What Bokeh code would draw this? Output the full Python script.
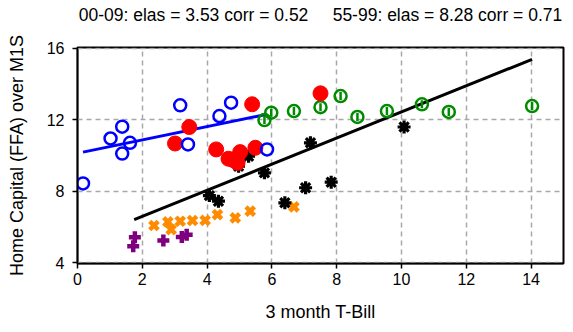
import math
from bokeh.plotting import figure
from bokeh.models import Range1d, FixedTicker, Title
from bokeh.embed import file_html
from bokeh.resources import INLINE

# ---- data ----
# 2000-2009 (blue open circles)
blue_x = [0.17, 1.02, 1.38, 1.38, 1.62, 3.17, 3.41, 4.38, 4.74, 5.85]
blue_y = [8.44, 10.95, 11.61, 10.11, 10.71, 12.80, 10.62, 12.20, 12.95, 10.34]
# 1990s (red filled circles)
red_x = [3.01, 3.45, 4.28, 4.66, 4.80, 4.94, 5.02, 5.39, 5.49, 7.50]
red_y = [10.67, 11.59, 10.34, 9.82, 9.75, 9.59, 10.19, 12.86, 10.43, 13.47]
# 1980s (green circle with bar)
green_x = [5.77, 5.98, 6.68, 7.50, 8.12, 8.64, 9.55, 10.63, 11.46, 14.03]
green_y = [11.98, 12.39, 12.48, 12.70, 13.32, 12.15, 12.48, 12.86, 12.43, 12.76]
# 1970s (black asterisks)
black_x = [4.07, 4.35, 4.97, 5.28, 5.77, 6.40, 7.04, 7.19, 7.83, 10.08]
black_y = [7.76, 7.45, 9.40, 9.96, 9.03, 7.36, 8.20, 10.71, 8.51, 11.59]
# 1960s (orange x)
orange_x = [2.36, 2.79, 2.89, 3.17, 3.55, 3.94, 4.32, 4.87, 5.33, 6.68]
orange_y = [6.09, 6.29, 5.86, 6.33, 6.37, 6.38, 6.70, 6.52, 6.89, 7.13]
# 1955-59 (purple +)
purple_x = [1.72, 1.77, 2.65, 3.22, 3.37]
purple_y = [4.93, 5.43, 5.26, 5.45, 5.58]
# fitted lines (endpoints)
fit00_x = [0.17, 5.85]
fit00_y = [10.19, 12.30]
fit55_x = [1.75, 14.03]
fit55_y = [6.42, 15.37]

x_ticks = [0, 2, 4, 6, 8, 10, 12, 14]
y_ticks = [4, 8, 12, 16]
title_left = "00-09: elas = 3.53 corr = 0.52"
title_right = "55-99: elas = 8.28 corr = 0.71"

FONT = "Liberation Sans"

p = figure(width=565, height=324, output_backend="svg", toolbar_location=None,
           title=None,
           x_range=Range1d(0, 15), y_range=Range1d(3.97, 16.03),
           min_border_left=77, min_border_right=2, min_border_top=47,
           min_border_bottom=61)
p.background_fill_color = "white"
p.border_fill_color = "white"
p.outline_line_color = "black"
p.outline_line_width = 2

# spacer between frame and header text, then the header itself
p.add_layout(Title(text="\u00a0", text_font_size="1px", standoff=20), "above")
p.add_layout(Title(text=title_left + "\u00a0" * 5 + title_right, align="center",
                   text_font=FONT, text_font_size="17.5px", text_font_style="normal",
                   text_color="black", standoff=0, vertical_align="bottom"), "above")

for ax in (p.xaxis[0], p.yaxis[0]):
    ax.axis_line_color = "black"
    ax.axis_line_width = 1.5
    ax.major_tick_line_color = "black"
    ax.major_tick_line_width = 1.5
    ax.major_tick_out = 5
    ax.major_tick_in = 0
    ax.minor_tick_line_color = None
    ax.major_label_text_font = FONT
    ax.major_label_text_font_size = "16px"
    ax.major_label_text_color = "black"
    ax.axis_label_text_font = FONT
    ax.axis_label_text_font_size = "18px"
    ax.axis_label_text_font_style = "normal"
    ax.axis_label_text_color = "black"

p.xaxis[0].ticker = FixedTicker(ticks=x_ticks)
p.yaxis[0].ticker = FixedTicker(ticks=y_ticks)
p.xaxis[0].axis_label = "3 month T-Bill"
p.yaxis[0].axis_label = "Home Capital (FFA) over M1S"
p.xaxis[0].major_label_standoff = 4
p.yaxis[0].major_label_standoff = 8
p.xaxis[0].axis_label_standoff = 14
p.yaxis[0].axis_label_standoff = 17

for g in (p.xgrid[0], p.ygrid[0]):
    g.grid_line_color = "#a8a8a8"
    g.grid_line_width = 1.5
    g.grid_line_dash = "5 4"
p.xgrid[0].ticker = FixedTicker(ticks=x_ticks)
p.ygrid[0].ticker = FixedTicker(ticks=y_ticks)

# fitted lines
p.line(fit00_x, fit00_y, line_color="#0000ff", line_width=3)
p.line(fit55_x, fit55_y, line_color="black", line_width=3)

# points
p.scatter(purple_x, purple_y, marker="cross", size=12, line_color="#7f007f", line_width=4.5)
p.scatter(orange_x, orange_y, marker="x", size=12, line_color="#ff8c00", line_width=4.5)
p.scatter(black_x, black_y, marker="asterisk", size=13, line_color="black", line_width=3.2)
p.scatter(green_x, green_y, marker="circle", size=12, line_color="#008b00", line_width=2.5,
          fill_color=None)
p.scatter(green_x, green_y, marker="dash", size=8, angle=math.pi / 2, line_color="#008b00",
          line_width=2.5)
p.scatter(red_x, red_y, marker="circle", size=15, line_color="#ff0000", fill_color="#ff0000")
p.scatter(blue_x, blue_y, marker="circle", size=12, line_color="#0000ff", line_width=2.5,
          fill_color=None)

open("out.html", "w").write(file_html(p, INLINE))
